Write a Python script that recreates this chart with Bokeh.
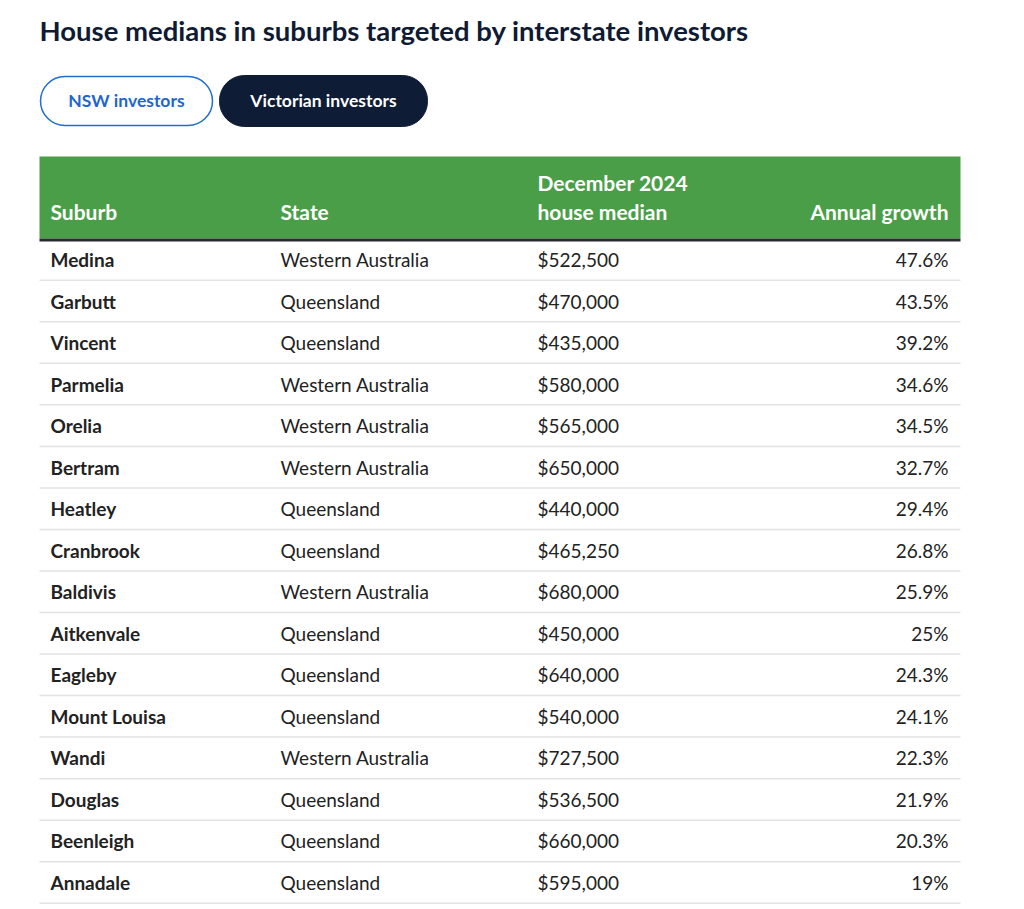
from bokeh.plotting import figure
from bokeh.models import Range1d, ColumnDataSource
from bokeh.core.properties import value
from bokeh.embed import file_html
from bokeh.resources import INLINE

title = "House medians in suburbs targeted by interstate investors"
buttons = ["NSW investors", "Victorian investors"]
headers = ["Suburb", "State", "December 2024\nhouse median", "Annual growth"]

suburbs = ["Medina", "Garbutt", "Vincent", "Parmelia", "Orelia", "Bertram", "Heatley",
           "Cranbrook", "Baldivis", "Aitkenvale", "Eagleby", "Mount Louisa", "Wandi",
           "Douglas", "Beenleigh", "Annadale"]
states = ["Western Australia", "Queensland", "Queensland", "Western Australia",
          "Western Australia", "Western Australia", "Queensland", "Queensland",
          "Western Australia", "Queensland", "Queensland", "Queensland",
          "Western Australia", "Queensland", "Queensland", "Queensland"]
medians = [522500, 470000, 435000, 580000, 565000, 650000, 440000, 465250, 680000,
           450000, 640000, 540000, 727500, 536500, 660000, 595000]
growth = [47.6, 43.5, 39.2, 34.6, 34.5, 32.7, 29.4, 26.8, 25.9, 25.0, 24.3, 24.1,
          22.3, 21.9, 20.3, 19.0]

FONT = "Lato"
W, H = 1008, 906
p = figure(width=W, height=H, x_range=Range1d(0, W), y_range=Range1d(H, 0),
           output_backend="svg", toolbar_location=None, min_border=0)
p.axis.visible = False
p.grid.visible = False
p.outline_line_color = None
p.background_fill_color = "white"
p.border_fill_color = "white"

# title
p.text(x=[39], y=[30], text=[title], text_font=value(FONT), text_font_size="27.5px",
       text_font_style="bold", text_color="#0f1a33", text_baseline="middle", text_align="left")

# buttons
p.quad(left=[40], right=[212], top=[76], bottom=[125], fill_color="white",
       line_color="#1f6fd1", line_width=1.5, border_radius=25)
p.quad(left=[219], right=[427], top=[75], bottom=[126], fill_color="#0e1c35",
       line_color="#0e1c35", line_width=1, border_radius=25)
p.text(x=[126, 323], y=[100, 100], text=buttons, text_font=value(FONT), text_font_size="17.5px",
       text_font_style="bold", text_color=["#1f66cc", "white"], text_baseline="middle",
       text_align="center")

# header
x_cols = [50, 280, 537, 948]
p.quad(left=[39], right=[960], top=[156], bottom=[238], fill_color="#4a9e47", line_color=None)
p.quad(left=[39], right=[960], top=[238], bottom=[241], fill_color="#2a2a33", line_color=None)
hdr_x = [x_cols[0], x_cols[1], x_cols[2], x_cols[2], x_cols[3]]
hdr_y = [211, 211, 182, 211, 211]
hdr_t = [headers[0], headers[1]] + headers[2].split("\n") + [headers[3]]
hdr_a = ["left", "left", "left", "left", "right"]
p.text(x=hdr_x, y=hdr_y, text=hdr_t, text_align=hdr_a, text_font=value(FONT),
       text_font_size="21px", text_font_style="bold", text_color="white",
       text_baseline="middle")

# rows
y0, dy = 259, 41.53
ys = [y0 + i * dy for i in range(len(suburbs))]
sep = [y + dy / 2 for y in ys]
p.segment(x0=[39] * len(sep), x1=[960] * len(sep), y0=sep, y1=sep,
          line_color="#e3e3e3", line_width=1.5)

src = ColumnDataSource(dict(
    y=ys, suburb=suburbs, state=states,
    median=[f"${m:,}" for m in medians],
    growth=[f"{g:g}%" for g in growth]))
p.text(x=x_cols[0], y="y", text="suburb", source=src, text_font=value(FONT),
       text_font_size="19px", text_font_style="bold", text_color="#222222",
       text_baseline="middle", text_align="left")
p.text(x=x_cols[1], y="y", text="state", source=src, text_font=value(FONT),
       text_font_size="19px", text_color="#222222", text_baseline="middle", text_align="left")
p.text(x=x_cols[2], y="y", text="median", source=src, text_font=value(FONT),
       text_font_size="19px", text_color="#222222", text_baseline="middle", text_align="left")
p.text(x=x_cols[3], y="y", text="growth", source=src, text_font=value(FONT),
       text_font_size="19px", text_color="#222222", text_baseline="middle", text_align="right")

open("out.html", "w").write(file_html(p, INLINE))
